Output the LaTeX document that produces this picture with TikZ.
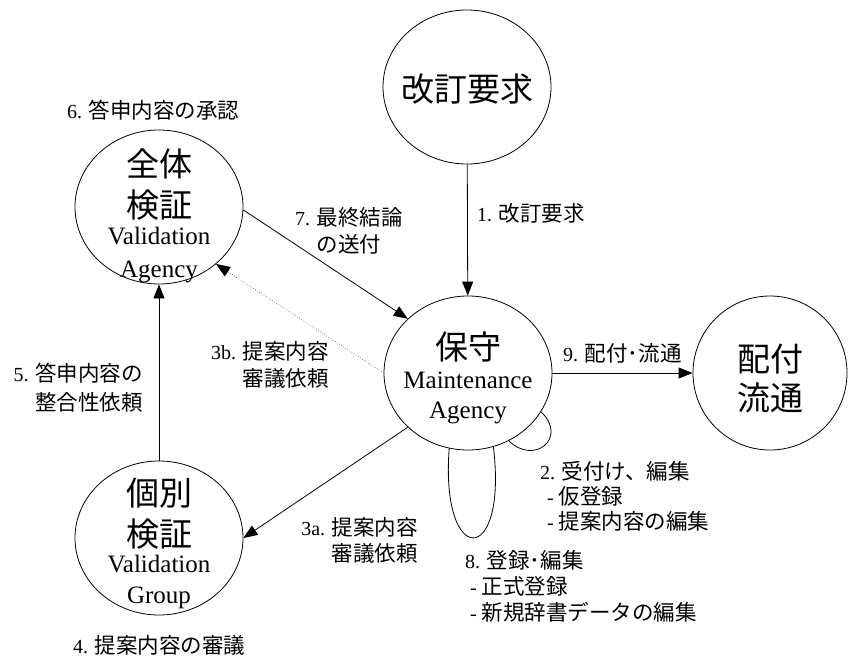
\documentclass[tikz,border=0pt]{standalone}
\usepackage{fontspec}
\setmainfont{Liberation Serif}
\newfontfamily\jp{Noto Sans CJK JP}
\usetikzlibrary{shapes.geometric,arrows.meta}
\newcommand\mybigjp{\jp\fontsize{33}{36}\selectfont}
\newcommand\mybiglat{\rmfamily\fontsize{25}{34}\selectfont}
\newcommand\myj[1]{{\jp\fontsize{21.5}{26}\selectfont #1}}
\begin{document}
\begin{tikzpicture}[x=1pt,y=-1pt,
  circ/.style={draw,ellipse,line width=0.8pt,minimum width=168pt,minimum height=154pt,inner sep=0pt},
  ctext/.style={align=center,inner sep=0pt,font=\fontsize{25}{34}\selectfont},
  conn/.style={line width=0.8pt,-{Triangle[length=14pt,width=11pt]}},
  loopline/.style={line width=0.8pt},
  lbl/.style={font=\fontsize{20}{26}\selectfont,inner sep=0pt},
  ]
\useasboundingbox (0,0) rectangle (848,659);
% circles
\node[circ] (req) at (467,87) {};
\node[circ] (va) at (159,207) {};
\node[circ] (m) at (468,373) {};
\node[circ] (vg) at (159,538) {};
\node[circ,minimum width=154pt] (dist) at (770,373) {};
% circle texts
\node[ctext] (reqt) at (467,89) {\mybigjp 改訂要求};
\node[ctext] (vat) at (159,216) {\mybigjp 全体\\[7pt]\mybigjp 検証\\[-7pt]\mybiglat Validation\\[-1pt]\mybiglat Agency};
\node[ctext,font=\fontsize{25}{31}\selectfont] (mt) at (468,378) {\mybigjp 保守\\[-2pt]\mybiglat Maintenance\\[-1pt]\mybiglat Agency};
\node[ctext] (vgt) at (159,543) {\mybigjp 個別\\[7pt]\mybigjp 検証\\[-8pt]\mybiglat Validation\\[-3pt]\mybiglat Group};
\node[ctext,font=\fontsize{33}{39}\selectfont] (distt) at (770,379) {\mybigjp 配付\\\mybigjp 流通};
% connectors
\draw[conn] (req) -- (m);
\draw[conn] (va.358) -- (m.138);
\draw[conn,line width=0.5pt,dotted] (m.west) -- (va.315);
\draw[conn] (vg) -- (va);
\draw[conn] (m.222) -- (vg.east);
\draw[conn] (m) -- (dist);
% self loops
\draw[loopline] (m.256.8) .. controls (440,568) and (508,568) .. (m.289.4);
\draw[loopline] (m.332) .. controls (568,437) and (535,466) .. (m.301);
% labels
\node[lbl,anchor=west] (l6) at (67,110) {6. \myj{答申内容の承認}};
\node[lbl,align=center,font=\fontsize{20}{27}\selectfont] (l7) at (349,231) {7. \myj{最終結論}\\\myj{の送付}};
\node[lbl,anchor=west] (l1) at (477,213) {1. \myj{改訂要求}};
\node[lbl,align=right,anchor=east,font=\fontsize{20}{27}\selectfont] (l3b) at (329,365) {3b. \myj{提案内容}\\\myj{審議依頼}};
\node[lbl,align=right,anchor=east,font=\fontsize{20}{29}\selectfont] (l5) at (143,388) {5. \myj{答申内容の}\\\myj{整合性依頼}};
\node[lbl,anchor=west] (l9) at (563,353) {9. \myj{配付･流通}};
\node[lbl,align=left,anchor=west,font=\fontsize{20}{25}\selectfont] (l2) at (540,496) {2. \myj{受付け、編集}\\\hspace*{7pt}- \myj{仮登録}\\\hspace*{7pt}- \myj{提案内容の編集}};
\node[lbl,align=right,anchor=east,font=\fontsize{20}{26}\selectfont] (l3a) at (418,540) {3a. \myj{提案内容}\\\myj{審議依頼}};
\node[lbl,align=left,anchor=west,font=\fontsize{20}{26}\selectfont] (l8) at (465,586) {8. \myj{登録･編集}\\\hspace*{5pt}- \myj{正式登録}\\\hspace*{5pt}- \myj{新規辞書データの編集}};
\node[lbl,anchor=west] (l4) at (73,645) {4. \myj{提案内容の審議}};
\end{tikzpicture}
\end{document}
